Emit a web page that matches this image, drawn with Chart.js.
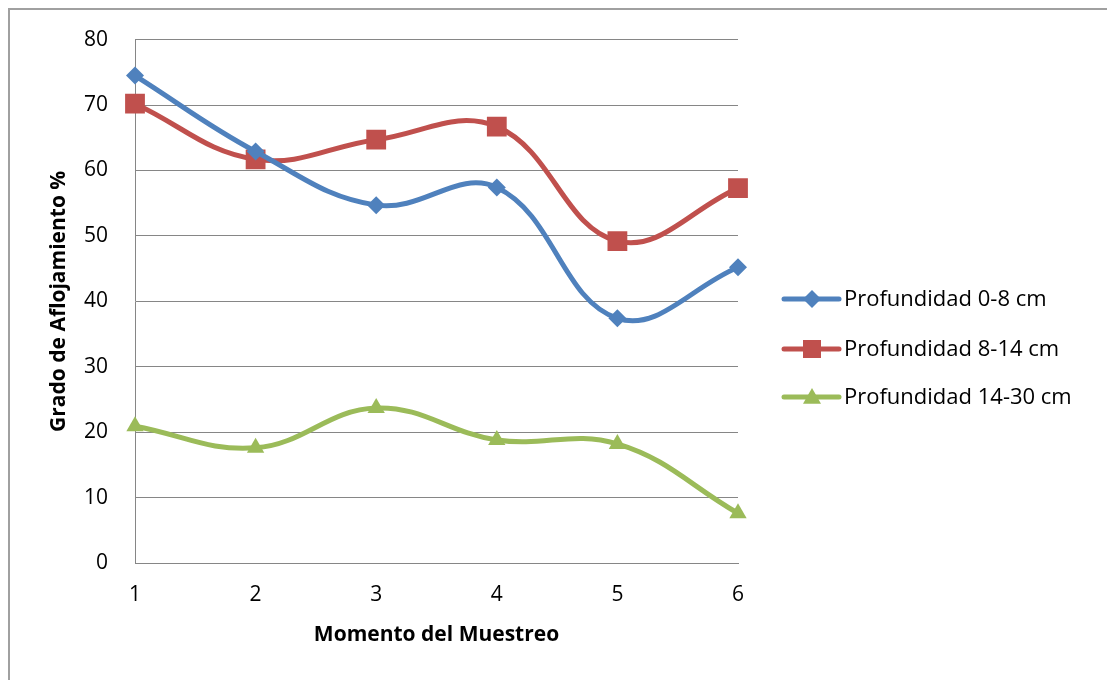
<!DOCTYPE html>
<html>
<head>
<meta charset="utf-8">
<script src="https://cdn.jsdelivr.net/npm/chart.js@4/dist/chart.umd.min.js"></script>
<style>
  html, body { margin: 0; padding: 0; background: #fff; overflow: hidden; }
  #wrap { position: relative; width: 1107px; height: 680px; }
  #frame { position: absolute; left: 8px; top: 8px; width: 1200px; height: 800px; border: 2px solid #a0a0a0; box-sizing: border-box; }
  #c { position: absolute; left: 0; top: 0; }
</style>
</head>
<body>
<div id="wrap">
  <div id="frame"></div>
  <canvas id="c" width="1107" height="680"></canvas>
</div>
<script>
const categories = ['1', '2', '3', '4', '5', '6'];
const prof0_8 = [74.5, 62.9, 54.7, 57.4, 37.4, 45.2];
const prof8_14 = [70.2, 61.7, 64.7, 66.7, 49.2, 57.3];
const prof14_30 = [20.9, 17.6, 23.7, 18.8, 18.2, 7.6];
const seriesLabels = ['Profundidad 0-8 cm', 'Profundidad 8-14 cm', 'Profundidad 14-30 cm'];
const yTicks = [0, 10, 20, 30, 40, 50, 60, 70, 80];

const colors = ['#4F81BD', '#C0504D', '#9BBB59'];
const styles = ['rectRot', 'rect', 'triangle'];
const radii = [9, 14, 10];
const FONT = "'Open Sans', sans-serif";

const legendPlugin = {
  id: 'customLegend',
  afterDraw(chart) {
    const ctx = chart.ctx;
    const ca = chart.chartArea;
    const x0 = ca.right + 46;
    const ys = [299, 349, 397];
    chart.data.datasets.forEach((ds, i) => {
      const y = ys[i];
      ctx.save();
      ctx.strokeStyle = ds.borderColor;
      ctx.lineWidth = 5;
      ctx.lineCap = 'round';
      ctx.beginPath();
      ctx.moveTo(x0, y);
      ctx.lineTo(x0 + 55, y);
      ctx.stroke();
      ctx.fillStyle = ds.borderColor;
      const cx = x0 + 28;
      ctx.beginPath();
      if (styles[i] === 'rectRot') {
        const r = 9;
        ctx.moveTo(cx, y - r); ctx.lineTo(cx + r, y); ctx.lineTo(cx, y + r); ctx.lineTo(cx - r, y);
      } else if (styles[i] === 'rect') {
        const s = 9;
        ctx.rect(cx - s, y - s, 2 * s, 2 * s);
      } else {
        const r = 9;
        ctx.moveTo(cx, y - r); ctx.lineTo(cx + r, y + r * 0.75); ctx.lineTo(cx - r, y + r * 0.75);
      }
      ctx.closePath();
      ctx.fill();
      ctx.fillStyle = '#000';
      ctx.font = "22px " + FONT;
      ctx.textBaseline = 'middle';
      ctx.textAlign = 'left';
      ctx.fillText(ds.label, x0 + 60, y + 1);
      ctx.restore();
    });
  }
};

const datasets = [prof0_8, prof8_14, prof14_30].map((vals, i) => ({
  label: seriesLabels[i],
  data: vals,
  borderColor: colors[i],
  backgroundColor: colors[i],
  borderWidth: 5,
  pointStyle: styles[i],
  pointRadius: radii[i],
  pointHoverRadius: radii[i],
  pointBorderWidth: 0,
  tension: 0.4,
  fill: false
}));

new Chart(document.getElementById('c'), {
  type: 'line',
  data: { labels: categories, datasets },
  plugins: [legendPlugin],
  options: {
    responsive: false,
    animation: false,
    devicePixelRatio: 1,
    layout: { padding: { left: 0, top: 39, right: 369, bottom: 17 } },
    plugins: { legend: { display: false }, tooltip: { enabled: false } },
    scales: {
      x: {
        offset: false,
        grid: { display: false, drawTicks: false },
        border: { display: true, color: '#868686', width: 1 },
        ticks: { color: '#000', font: { family: FONT, size: 21 }, padding: 19, maxRotation: 0 },
        title: { display: true, text: 'Momento del Muestreo', color: '#000', font: { family: FONT, size: 21, weight: 'bold' }, padding: { top: 0, bottom: 15 } },
        afterFit(scale) { scale.height = 100; }
      },
      y: {
        min: 0, max: 80,
        afterBuildTicks(scale) { scale.ticks = yTicks.map(v => ({ value: v })); },
        grid: { color: '#868686', lineWidth: 1, drawTicks: false },
        border: { display: true, color: '#868686', width: 1 },
        ticks: { color: '#000', font: { family: FONT, size: 21 }, padding: 27 },
        title: { display: true, text: 'Grado de Aflojamiento %', color: '#000', font: { family: FONT, size: 21, weight: 'bold' }, padding: { top: 46, bottom: 0 } },
        afterFit(scale) { scale.width = 135; }
      }
    }
  }
});
</script>
</body>
</html>
